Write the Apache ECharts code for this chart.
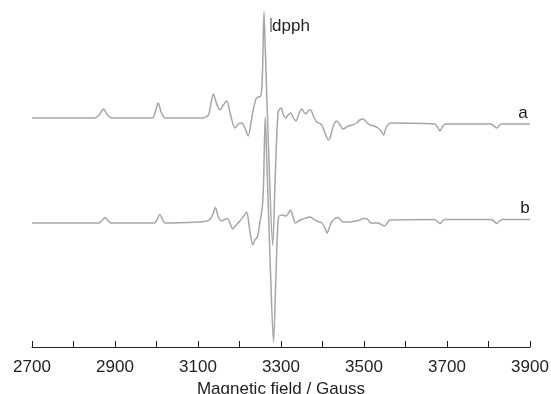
<!DOCTYPE html>
<html>
<head>
<meta charset="utf-8">
<script src="https://cdn.jsdelivr.net/npm/echarts@6/dist/echarts.min.js"></script>
<style>
  html, body { margin: 0; padding: 0; background: #fff; }
  #chart { width: 551px; height: 394px; }
</style>
</head>
<body>
<div id="chart"></div>
<script>
// field axis (Gauss)
const fieldTicks = [2700, 2900, 3100, 3300, 3500, 3700, 3900];

// spectrum a: field / signal (relative to its own baseline)
const fieldA = [2700, 2850, 2862, 2872, 2882, 2893, 2990, 2997, 3004, 3012, 3022, 3110, 3125, 3131, 3137, 3145, 3153, 3161, 3169, 3178, 3189, 3197, 3205, 3213, 3221, 3228, 3233, 3241, 3251, 3255, 3259, 3262, 3270, 3280, 3286, 3293, 3300, 3306, 3312, 3317, 3323, 3330, 3336, 3343, 3350, 3355, 3360, 3365, 3371, 3378, 3386, 3392, 3398, 3406, 3414, 3418, 3422, 3428, 3434, 3441, 3449, 3455, 3462, 3472, 3482, 3490, 3498, 3506, 3514, 3524, 3534, 3541, 3547, 3553, 3559, 3567, 3670, 3677, 3683, 3690, 3697, 3805, 3813, 3820, 3827, 3833, 3900];
const sigA   = [0, 0, 3, 9, 3, 0, 0, 6, 15, 5, 0, 0, 3, 14, 24, 14, 8, 13, 17, 4, -10, -6, -5, -10, -18, -4, 8, 20, 22, 40, 106, 70, -30, -127, -60, 6, 10, 3, 0, 3, 5, 0, -3, 4, 9, 6, 4, 7, 8, 2, -4, -5, -7, -15, -22, -20, -14, -6, -3, -6, -11, -10, -8, -7, -5, -2, -1, -4, -7, -8, -10, -13, -17, -10, -6, -5, -6, -9, -13, -8, -6, -6, -8, -10, -7, -6, -6];

// spectrum b
const fieldB = [2700, 2860, 2868, 2876, 2884, 2890, 2995, 3001, 3008, 3015, 3021, 3100, 3120, 3129, 3136, 3142, 3149, 3157, 3164, 3171, 3178, 3183, 3190, 3201, 3210, 3217, 3224, 3232, 3237, 3243, 3249, 3255, 3258, 3262, 3266, 3274, 3282, 3288, 3294, 3302, 3312, 3318, 3323, 3329, 3335, 3342, 3350, 3360, 3370, 3378, 3386, 3398, 3405, 3411, 3416, 3422, 3430, 3438, 3444, 3450, 3466, 3480, 3490, 3498, 3506, 3512, 3518, 3534, 3543, 3550, 3556, 3563, 3670, 3677, 3683, 3690, 3697, 3805, 3813, 3820, 3827, 3833, 3900];
const sigB   = [0, 0, 2, 5.5, 2, 0, 0, 3, 8.5, 3, 0, 1, 2, 3.5, 9, 15.5, 6, 2, 3.5, 4.5, -1, -6, -3, 2, 7, 11, -5, -22, -17, -14, 0, 16, 40, 106, 60, -40, -119, -50, 6, 8, 7, 10, 13, 6, 0, 2, 3.5, 5, 6, 4, 2, 0, -4, -10, -5, 1, 4.5, 5.5, 3, 1, 1, 2, 3, 4.5, 4.5, 2, 0, 0, -2, -3, 0, 3, 3.5, 1.5, -0.5, 2.5, 3.5, 3.5, 2, -0.5, 2, 3.5, 3.5];

// vertical offsets used to stack the two spectra
const offsetA = 229;
const offsetB = 124;

const FONT = '"Liberation Sans", Arial, Helvetica, sans-serif';
const LINE = '#a6a6a6';

const chart = echarts.init(document.getElementById('chart'), null, { renderer: 'canvas' });

const toPairs = (xs, ys, off) => xs.map((x, i) => [x, ys[i] + off]);

chart.setOption({
  animation: false,
  backgroundColor: '#fff',
  grid: { left: 32, right: 21, top: 10, bottom: 47, containLabel: false, outerBoundsMode: 'none' },
  xAxis: {
    type: 'value',
    min: 2700,
    max: 3900,
    interval: 100,
    name: 'Magnetic field / Gauss',
    nameLocation: 'middle',
    nameGap: 33,
    nameTextStyle: { fontFamily: FONT, fontSize: 17, color: '#222' },
    axisLine: { show: true, onZero: false, lineStyle: { color: '#222', width: 1 } },
    axisTick: { show: true, inside: true, length: 6, lineStyle: { color: '#222' } },
    axisLabel: {
      margin: 12,
      fontFamily: FONT,
      fontSize: 17,
      color: '#222',
      formatter: v => (fieldTicks.includes(v) ? String(v) : '')
    },
    splitLine: { show: false }
  },
  yAxis: {
    type: 'value',
    min: 0,
    max: 337,
    show: false
  },
  series: [
    {
      name: 'a',
      type: 'line',
      data: toPairs(fieldA, sigA, offsetA),
      showSymbol: false,
      smooth: 0.3,
      lineStyle: { color: LINE, width: 1.5 },
      markPoint: {
        symbol: 'circle',
        symbolSize: 0,
        silent: true,
        label: { show: true, position: 'inside', fontFamily: FONT, fontSize: 17, color: '#222', formatter: '{b}' },
        data: [
          { name: 'a', coord: [3883, offsetA + 5] },
          { name: 'dpph', coord: [3324, offsetA + 92] }
        ]
      },
      markLine: {
        silent: true,
        symbol: 'none',
        label: { show: false },
        lineStyle: { color: '#777', width: 1.5, type: 'solid' },
        data: [[{ coord: [3275, offsetA + 100] }, { coord: [3275, offsetA + 86] }]]
      }
    },
    {
      name: 'b',
      type: 'line',
      data: toPairs(fieldB, sigB, offsetB),
      showSymbol: false,
      smooth: 0.3,
      lineStyle: { color: LINE, width: 1.5 },
      markPoint: {
        symbol: 'circle',
        symbolSize: 0,
        silent: true,
        label: { show: true, position: 'inside', fontFamily: FONT, fontSize: 17, color: '#222', formatter: '{b}' },
        data: [{ name: 'b', coord: [3888, offsetB + 15] }]
      }
    }
  ]
});
</script>
</body>
</html>
